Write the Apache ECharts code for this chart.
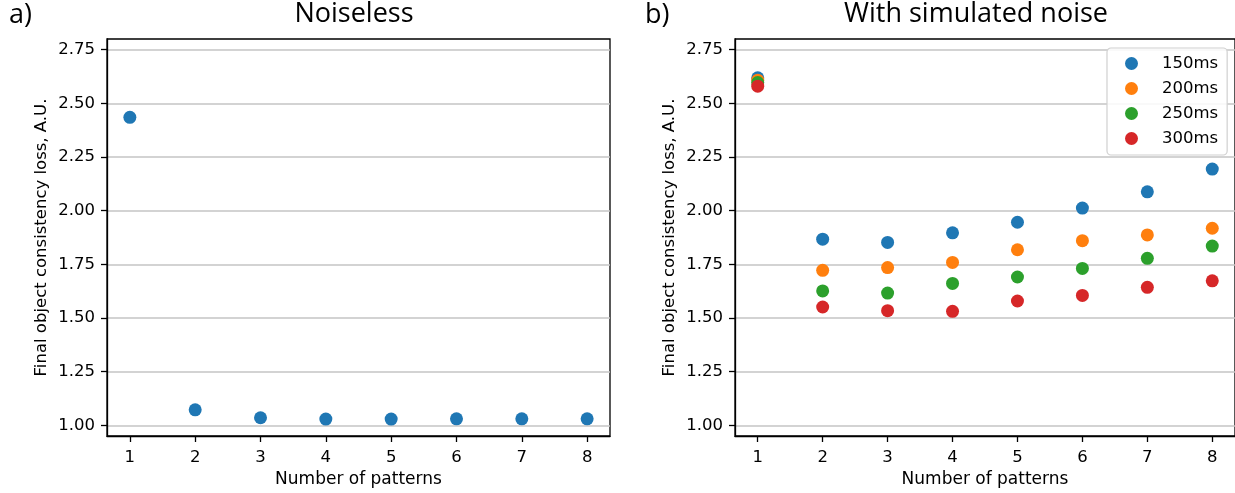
<!DOCTYPE html>
<html>
<head>
<meta charset="utf-8">
<script src="https://cdn.jsdelivr.net/npm/echarts@6/dist/echarts.min.js"></script>
<style>html,body{margin:0;padding:0;background:#fff;}#c{width:1235px;height:493px;}</style>
</head>
<body>
<div id="c"></div>
<script>
const patterns = [1, 2, 3, 4, 5, 6, 7, 8];
const yTicks = [1.00, 1.25, 1.50, 1.75, 2.00, 2.25, 2.50, 2.75];
const noiseless = [2.435, 1.072, 1.035, 1.029, 1.029, 1.030, 1.030, 1.030];
const seriesNames = ['150ms', '200ms', '250ms', '300ms'];
const noise150 = [2.619, 1.867, 1.852, 1.897, 1.946, 2.012, 2.088, 2.194];
const noise200 = [2.608, 1.722, 1.735, 1.759, 1.818, 1.860, 1.887, 1.918];
const noise250 = [2.597, 1.626, 1.616, 1.661, 1.691, 1.731, 1.778, 1.835];
const noise300 = [2.580, 1.551, 1.534, 1.531, 1.579, 1.605, 1.643, 1.673];
const colors = ['#1f77b4', '#ff7f0e', '#2ca02c', '#d62728'];

const chart = echarts.init(document.getElementById('c'), null, {renderer: 'canvas'});
const tickFont = {fontFamily: 'DejaVu Sans', fontSize: 16.5, color: '#000'};
function xAxis(gi) {
  return {
    type: 'value', gridIndex: gi, min: 0.65, max: 8.35,
    name: 'Number of patterns', nameLocation: 'middle', nameGap: 35,
    nameTextStyle: {fontFamily: 'DejaVu Sans', fontSize: 17, color: '#000'},
    axisLine: {show: true, lineStyle: {color: '#000', width: 1.3}},
    axisTick: {show: true, length: 6, lineStyle: {color: '#000', width: 1.3}, customValues: patterns},
    axisLabel: Object.assign({margin: 13, customValues: patterns, formatter: v => String(v)}, tickFont),
    splitLine: {show: false}
  };
}
function yAxis(gi) {
  return {
    type: 'value', gridIndex: gi, min: 0.95, max: 2.8,
    name: 'Final object consistency loss, A.U.', nameLocation: 'middle', nameGap: 57,
    nameTextStyle: {fontFamily: 'DejaVu Sans', fontSize: 16.5, color: '#000'},
    axisLine: {show: true, lineStyle: {color: '#000', width: 1.3}},
    axisTick: {show: true, length: 6, lineStyle: {color: '#000', width: 1.3}, customValues: yTicks},
    axisLabel: Object.assign({margin: 12, customValues: yTicks, formatter: v => v.toFixed(2)}, tickFont),
    splitLine: {show: true, lineStyle: {color: '#c4c4c4', width: 1.5}}
  };
}
const noiseData = [noise150, noise200, noise250, noise300];
const series = [{
  type: 'scatter', name: 'noiseless', xAxisIndex: 0, yAxisIndex: 0,
  symbolSize: 13, itemStyle: {color: colors[0], opacity: 1},
  data: patterns.map((p, i) => [p, noiseless[i]])
}];
noiseData.forEach((arr, k) => {
  series.push({
    type: 'scatter', name: seriesNames[k], xAxisIndex: 1, yAxisIndex: 1,
    symbolSize: 13, itemStyle: {color: colors[k], opacity: 1},
    data: patterns.map((p, i) => [p, arr[i]])
  });
});
const titleFont = 'Open Sans';
chart.setOption({
  animation: false,
  backgroundColor: '#fff',
  grid: [
    {left: 107, top: 39, width: 503, height: 400, show: true, borderColor: '#000', borderWidth: 1.3, backgroundColor: 'transparent'},
    {left: 735, top: 39, width: 502, height: 400, show: true, borderColor: '#000', borderWidth: 1.3, backgroundColor: 'transparent'}
  ],
  xAxis: [xAxis(0), xAxis(1)],
  yAxis: [yAxis(0), yAxis(1)],
  legend: {
    data: seriesNames, left: 1107, top: 48, orient: 'vertical',
    icon: 'circle', itemWidth: 13, itemHeight: 13, itemGap: 8,
    padding: [7, 9, 8, 18],
    borderColor: '#d0d0d0', borderWidth: 1.2, borderRadius: 4,
    backgroundColor: 'rgba(255,255,255,0.85)',
    textStyle: {fontFamily: 'DejaVu Sans', fontSize: 16.5, color: '#000', padding: [0, 0, 0, 19]}
  },
  graphic: [
    {type: 'text', left: 9, top: 2, style: {text: 'a)', fontFamily: titleFont, fontSize: 27, fill: '#000'}},
    {type: 'text', left: 645, top: 2, style: {text: 'b)', fontFamily: titleFont, fontSize: 27, fill: '#000'}},
    {type: 'text', x: 354, y: 1, style: {text: 'Noiseless', fontFamily: titleFont, fontSize: 27, fill: '#000', align: 'center', verticalAlign: 'top'}},
    {type: 'text', x: 976, y: 1, style: {text: 'With simulated noise', fontFamily: titleFont, fontSize: 27, fill: '#000', align: 'center', verticalAlign: 'top'}}
  ],
  series: series
});
</script>
</body>
</html>
